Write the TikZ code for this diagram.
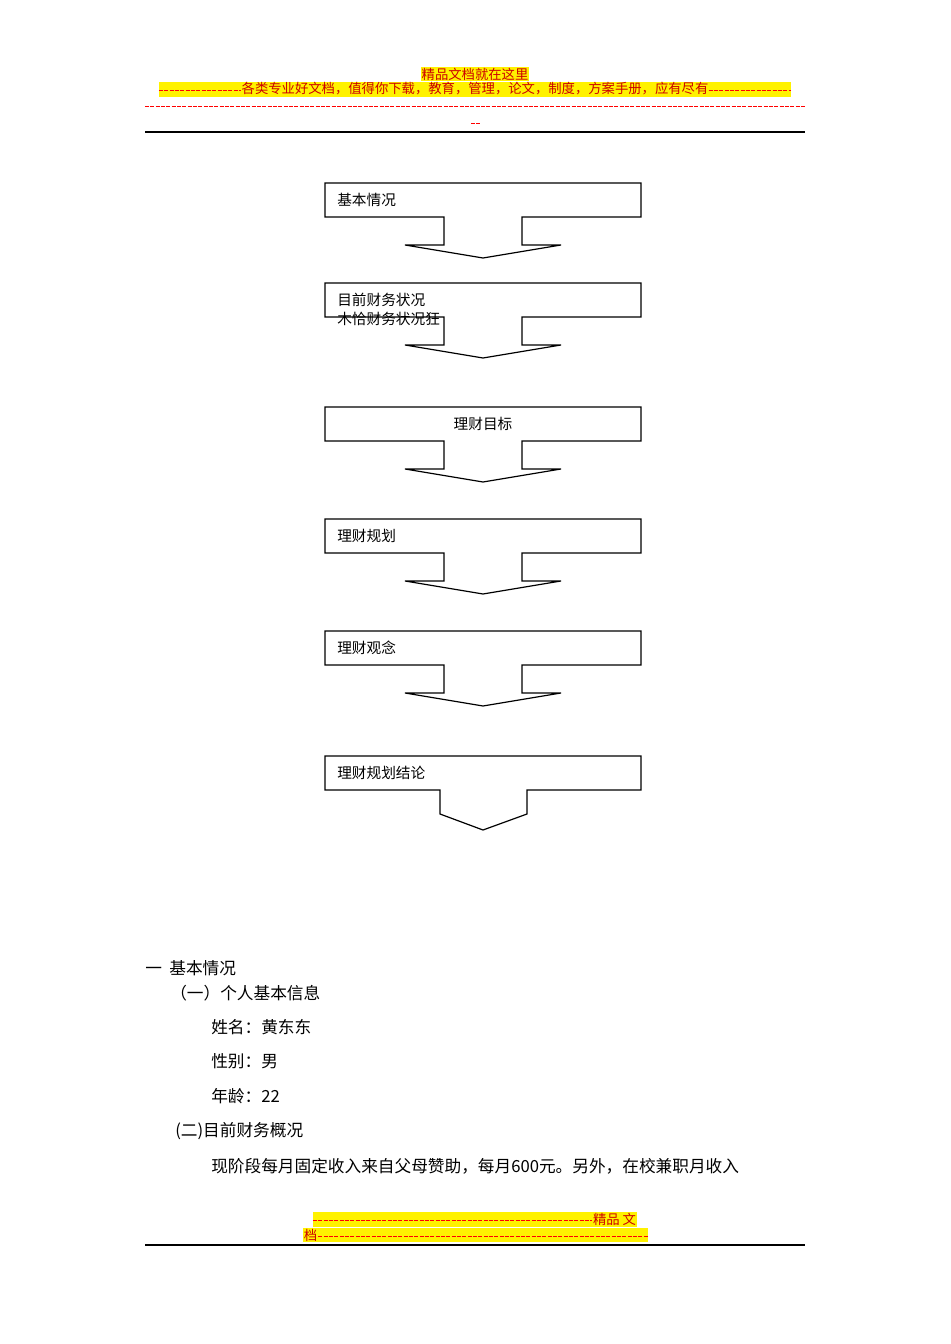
\documentclass[tikz,border=0pt]{standalone}
\usepackage{fontspec}
\setmainfont{Noto Sans CJK SC}
\begin{document}
\begin{tikzpicture}[x=0.75pt,y=-0.75pt,
  flow/.style={draw=black,line width=0.9pt,line join=miter,fill=white},
  lbl/.style={anchor=west,inner sep=0pt,font=\fontsize{11}{13}\selectfont},
  body/.style={anchor=west,inner sep=0pt,font=\fontsize{12.5}{15}\selectfont},
  hdr/.style={inner sep=0.5pt,font=\fontsize{10}{12}\selectfont,text=red!80!black,fill=yellow},
  reddash/.style={draw=red,dash pattern=on 3pt off 1pt,line width=0.6pt}]
\useasboundingbox (0,0) rectangle (950,1344);
% header
\node[hdr] (h1) at (475,74) {精品文档就在这里};
\fill[yellow] (159,82) rectangle (791,97);
\node[hdr,inner sep=0pt] (h2) at (475,89) {各类专业好文档，值得你下载，教育，管理，论文，制度，方案手册，应有尽有};
\coordinate (h2l) at (159,90); \coordinate (h2r) at (791,90);
\draw[reddash] (h2l) -- (h2.west |- h2l);
\draw[reddash] (h2.east |- h2r) -- (h2r);
\coordinate (d1) at (145,106); \coordinate (d2) at (805,106);
\draw[reddash] (d1) -- (d2);
\coordinate (d3) at (471,123); \coordinate (d4) at (480,123);
\draw[reddash] (d3) -- (d4);
\coordinate (r1) at (145,132); \coordinate (r2) at (805,132);
\draw[line width=1.2pt] (r1) -- (r2);
% flow boxes
\foreach \t/\name in {183/b1,283/b2,407/b3,519/b4,631/b5}{
  \draw[flow] (325,\t) -- (641,\t) -- (641,\t+34) -- (522,\t+34) -- (522,\t+62) -- (561,\t+62)
    -- (483,\t+75) -- (405,\t+62) -- (444,\t+62) -- (444,\t+34) -- (325,\t+34) -- cycle;
  \coordinate (\name) at (337,\t+17);
}
\draw[flow] (325,756) -- (641,756) -- (641,790) -- (527,790) -- (527,814) -- (483,830)
  -- (440,814) -- (440,790) -- (325,790) -- cycle;
\coordinate (b6) at (337,773);
\node[lbl] (t1) at (b1) {基本情况};
\node[lbl] (t2) at (b2) {目前财务状况};
\node[lbl] (t2b) at (337,319) {木恰财务状况狂};
\node[lbl,anchor=center] (t3) at (483,424) {理财目标};
\node[lbl] (t4) at (b4) {理财规划};
\node[lbl] (t5) at (b5) {理财观念};
\node[lbl] (t6) at (b6) {理财规划结论};
% body text
\node[body] (p1) at (145,968) {一\ \ 基本情况};
\node[body] (p2) at (170,993) {（一）个人基本信息};
\node[body] (p3) at (211,1027) {姓名：黄东东};
\node[body] (p4) at (211,1061) {性别：男};
\node[body] (p5) at (211,1096) {年龄：22};
\node[body] (p6) at (175,1131) {(二)目前财务概况};
\node[body] (p7) at (211,1166) {现阶段每月固定收入来自父母赞助，每月600元。另外，在校兼职月收入};
% footer
\fill[yellow] (313,1212) rectangle (637,1227);
\fill[yellow] (303,1228) rectangle (648,1242);
\node[hdr,anchor=east,fill=none] (f1) at (637,1219) {精品 文};
\coordinate (f1l) at (313,1220);
\draw[reddash] (f1l) -- (f1.west |- f1l);
\node[hdr,anchor=west,fill=none] (f2) at (303,1235) {档};
\coordinate (f2r) at (648,1236);
\draw[reddash] (f2.east |- f2r) -- (f2r);
\coordinate (r3) at (145,1245); \coordinate (r4) at (805,1245);
\draw[line width=1.2pt] (r3) -- (r4);
\end{tikzpicture}
\end{document}
